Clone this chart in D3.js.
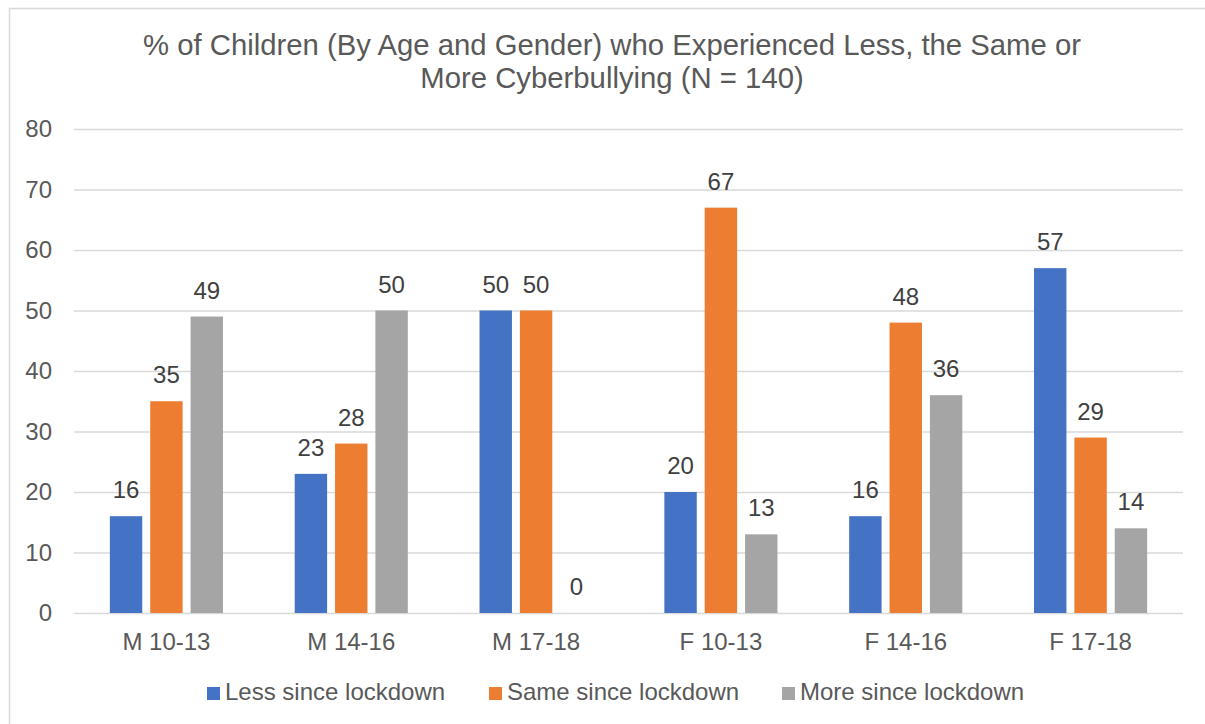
<!DOCTYPE html>
<html lang="en">
<head>
  <meta charset="utf-8" />
  <title>Cyberbullying by age and gender</title>
  <style>
    body { margin: 0; background: #fff; }
    svg { display: block; font-family: "Liberation Sans", Arial, sans-serif; }
  </style>
</head>
<body>
<script src="https://cdn.jsdelivr.net/npm/d3@7"></script>
<script>
  var categories = ["M 10-13", "M 14-16", "M 17-18", "F 10-13", "F 14-16", "F 17-18"];
  var seriesNames = ["Less since lockdown", "Same since lockdown", "More since lockdown"];
  var lessValues = [16, 23, 50, 20, 16, 57];
  var sameValues = [35, 28, 50, 67, 48, 29];
  var moreValues = [49, 50, 0, 13, 36, 14];
  var yTicks = [0, 10, 20, 30, 40, 50, 60, 70, 80];
  var colors = ["#4472C4", "#ED7D31", "#A5A5A5"];

  var seriesValues = [lessValues, sameValues, moreValues];

  const W = 1205, H = 724;
  const plot = {left: 74, right: 1183, top: 129, bottom: 613};

  var svg = d3.select("body").append("svg")
      .attr("width", W)
      .attr("height", H);

  // outer chart frame (runs off the right and bottom of the picture)
  svg.append("rect")
      .attr("x", 9.5).attr("y", 8.5)
      .attr("width", 1220).attr("height", 740)
      .attr("fill", "none")
      .attr("stroke", "#D9D9D9")
      .attr("stroke-width", 1.5);

  // title
  var title = svg.append("text")
      .attr("text-anchor", "middle")
      .attr("fill", "#595959")
      .attr("font-size", 29.3);
  title.append("tspan").attr("x", 612).attr("y", 55)
      .text("% of Children (By Age and Gender) who Experienced Less, the Same or");
  title.append("tspan").attr("x", 612).attr("y", 88)
      .text("More Cyberbullying (N = 140)");

  var y = d3.scaleLinear([0, 80], [plot.bottom, plot.top]);
  var x0 = d3.scaleBand(categories, [plot.left, plot.right])
      .paddingInner(0.388)
      .paddingOuter(0.194);
  var x1 = d3.scaleBand(d3.range(seriesNames.length), [0, x0.bandwidth()])
      .paddingInner(0.197)
      .paddingOuter(0);

  // gridlines
  var grid = svg.append("g")
      .attr("transform", `translate(${plot.left}, 0)`)
      .call(d3.axisLeft(y).tickValues(yTicks).tickSize(-(plot.right - plot.left)).tickFormat(""));
  grid.select(".domain").remove();
  grid.selectAll(".tick line").attr("stroke", "#D9D9D9").attr("stroke-width", 1.3);

  // y tick labels
  var yAxisG = svg.append("g")
      .attr("transform", `translate(${plot.left - 22}, 0)`)
      .call(d3.axisLeft(y).tickValues(yTicks).tickSize(0).tickPadding(0));
  yAxisG.select(".domain").remove();
  yAxisG.selectAll("text")
      .attr("font-size", 24)
      .attr("font-family", "Liberation Sans, Arial, sans-serif")
      .attr("fill", "#595959");

  // bars
  var rows = [];
  categories.forEach((c, i) => {
    seriesValues.forEach((vals, s) => {
      rows.push({cat: c, s: s, v: vals[i]});
    });
  });

  svg.append("g")
      .selectAll("rect")
      .data(rows)
      .join("rect")
      .attr("x", d => x0(d.cat) + x1(d.s))
      .attr("y", d => y(d.v))
      .attr("width", x1.bandwidth())
      .attr("height", d => y(0) - y(d.v))
      .attr("fill", d => colors[d.s]);

  // data labels
  svg.append("g")
      .selectAll("text")
      .data(rows)
      .join("text")
      .attr("x", d => x0(d.cat) + x1(d.s) + x1.bandwidth() / 2)
      .attr("y", d => y(d.v) - 18)
      .attr("text-anchor", "middle")
      .attr("font-size", 24)
      .attr("fill", "#404040")
      .text(d => d.v);

  // x axis labels
  var xAxisG = svg.append("g")
      .attr("transform", `translate(0, ${plot.bottom})`)
      .call(d3.axisBottom(x0).tickSize(0).tickPadding(20));
  xAxisG.select(".domain").remove();
  xAxisG.selectAll("text")
      .attr("font-size", 24)
      .attr("font-family", "Liberation Sans, Arial, sans-serif")
      .attr("fill", "#595959");

  // legend
  var legendX = [207, 489, 782];
  var legend = svg.append("g")
      .selectAll("g")
      .data(seriesNames)
      .join("g")
      .attr("transform", (d, i) => `translate(${legendX[i]}, 700)`);
  legend.append("rect")
      .attr("x", 0).attr("y", -13)
      .attr("width", 13).attr("height", 13)
      .attr("fill", (d, i) => colors[i]);
  legend.append("text")
      .attr("x", 18).attr("y", 0)
      .attr("font-size", 24)
      .attr("fill", "#595959")
      .text(d => d);
</script>
</body>
</html>
